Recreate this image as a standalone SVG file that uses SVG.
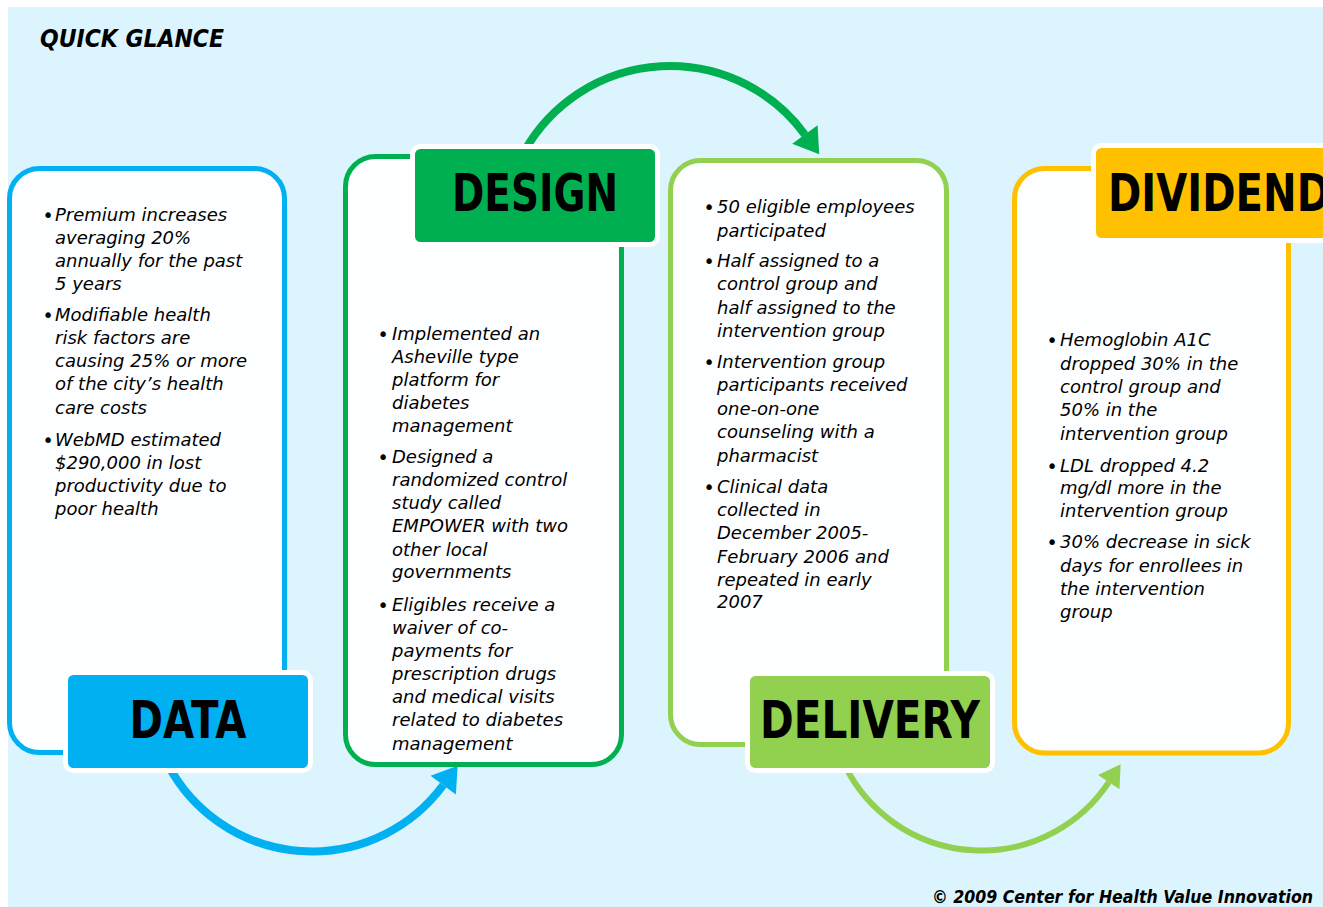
<svg xmlns="http://www.w3.org/2000/svg" width="1323" height="907" viewBox="0 0 1323 907">
  <style>
    .bg { fill: #DCF4FE; }
    .box { fill: #FDFEFF; stroke-width: 5; }
    .lbl { stroke: #FFFFFF; stroke-width: 5; }
    .ltxt { font-family: "DejaVu Sans", "Liberation Sans", sans-serif; font-weight: bold; font-size: 51px; text-anchor: middle; fill: #000; }
    .body { font-family: "DejaVu Sans", "Liberation Sans", sans-serif; font-style: italic; font-size: 18px; fill: #000; }
    .bul { font-family: "DejaVu Sans", sans-serif; font-size: 19px; text-anchor: middle; fill: #000; }
    .title { font-family: "DejaVu Sans", "Liberation Sans", sans-serif; font-weight: bold; font-style: italic; fill: #000; }
    .arc { fill: none; }
  </style>
  <defs>
    <marker id="headBlue" markerUnits="userSpaceOnUse" markerWidth="40" markerHeight="40" refX="0" refY="0" orient="auto" viewBox="-2 -14 24 28" overflow="visible">
      <path d="M0,-11 L17,0 L0,11 z" fill="#00B0F0"/>
    </marker>
    <marker id="headGreen" markerUnits="userSpaceOnUse" markerWidth="40" markerHeight="40" refX="0" refY="0" orient="auto" viewBox="-2 -14 24 28" overflow="visible">
      <path d="M0,-11 L17,0 L0,11 z" fill="#00B050"/>
    </marker>
    <marker id="headLime" markerUnits="userSpaceOnUse" markerWidth="40" markerHeight="40" refX="0" refY="0" orient="auto" viewBox="-2 -14 24 28" overflow="visible">
      <path d="M0,-9 L15,0 L0,9 z" fill="#92D050"/>
    </marker>
  </defs>

  <!-- page background -->
  <rect class="bg" x="8" y="7" width="1315" height="900"/>

  <text class="title" x="40" y="47" font-size="25" textLength="184" lengthAdjust="spacingAndGlyphs">QUICK GLANCE</text>

  <!-- curved arrows linking the four stages -->
  <g id="connectors">
    <path class="arc" d="M168.1,765 A163,163 0 0 0 443.2,785.2" stroke="#00B0F0" stroke-width="8" marker-end="url(#headBlue)"/>
    <path class="arc" d="M525.4,149.5 A167,167 0 0 1 804.9,134.6" stroke="#00B050" stroke-width="8" marker-end="url(#headGreen)"/>
    <path class="arc" d="M845.7,767.2 A152.5,152.5 0 0 0 1108.8,782.2" stroke="#92D050" stroke-width="6" marker-end="url(#headLime)"/>
  </g>

  <!-- DATA -->
  <g id="data">
    <rect class="box" x="9.5" y="168.5" width="275" height="584" rx="30" stroke="#00B0F0"/>
    <text class="bul" x="48" y="222">•</text>
    <text class="body">
      <tspan x="55" y="221">Premium increases</tspan>
      <tspan x="55" y="244">averaging 20%</tspan>
      <tspan x="55" y="267">annually for the past</tspan>
      <tspan x="55" y="290">5 years</tspan>
    </text>
    <text class="bul" x="48" y="322">•</text>
    <text class="body">
      <tspan x="55" y="321">Modifiable health</tspan>
      <tspan x="55" y="344">risk factors are</tspan>
      <tspan x="55" y="367">causing 25% or more</tspan>
      <tspan x="55" y="390">of the city’s health</tspan>
      <tspan x="55" y="414">care costs</tspan>
    </text>
    <text class="bul" x="48" y="447">•</text>
    <text class="body">
      <tspan x="55" y="446">WebMD estimated</tspan>
      <tspan x="55" y="469">$290,000 in lost</tspan>
      <tspan x="55" y="492">productivity due to</tspan>
      <tspan x="55" y="515">poor health</tspan>
    </text>
    <rect class="lbl" x="65.5" y="672.5" width="245" height="98" rx="8" fill="#00B0F0"/>
    <text class="ltxt" x="188" y="738" textLength="117" lengthAdjust="spacingAndGlyphs">DATA</text>
  </g>

  <!-- DESIGN -->
  <g id="design">
    <rect class="box" x="345.5" y="156.5" width="276" height="608" rx="30" stroke="#00B050"/>
    <text class="bul" x="383" y="341">•</text>
    <text class="body">
      <tspan x="392" y="340">Implemented an</tspan>
      <tspan x="392" y="363">Asheville type</tspan>
      <tspan x="392" y="386">platform for</tspan>
      <tspan x="392" y="409">diabetes</tspan>
      <tspan x="392" y="432">management</tspan>
    </text>
    <text class="bul" x="383" y="464">•</text>
    <text class="body">
      <tspan x="392" y="463">Designed a</tspan>
      <tspan x="392" y="486">randomized control</tspan>
      <tspan x="392" y="509">study called</tspan>
      <tspan x="392" y="532">EMPOWER with two</tspan>
      <tspan x="392" y="556">other local</tspan>
      <tspan x="392" y="578">governments</tspan>
    </text>
    <text class="bul" x="383" y="612">•</text>
    <text class="body">
      <tspan x="392" y="611">Eligibles receive a</tspan>
      <tspan x="392" y="634">waiver of co-</tspan>
      <tspan x="392" y="657">payments for</tspan>
      <tspan x="392" y="680">prescription drugs</tspan>
      <tspan x="392" y="703">and medical visits</tspan>
      <tspan x="392" y="726">related to diabetes</tspan>
      <tspan x="392" y="750">management</tspan>
    </text>
    <rect class="lbl" x="412.5" y="146.5" width="245" height="98" rx="8" fill="#00B050"/>
    <text class="ltxt" x="535" y="211" textLength="166" lengthAdjust="spacingAndGlyphs">DESIGN</text>
  </g>

  <!-- DELIVERY -->
  <g id="delivery">
    <rect class="box" x="670.5" y="160.5" width="276" height="584" rx="30" stroke="#92D050"/>
    <text class="bul" x="709" y="214">•</text>
    <text class="body">
      <tspan x="717" y="213">50 eligible employees</tspan>
      <tspan x="717" y="237">participated</tspan>
    </text>
    <text class="bul" x="709" y="268">•</text>
    <text class="body">
      <tspan x="717" y="267">Half assigned to a</tspan>
      <tspan x="717" y="290">control group and</tspan>
      <tspan x="717" y="314">half assigned to the</tspan>
      <tspan x="717" y="337">intervention group</tspan>
    </text>
    <text class="bul" x="709" y="369">•</text>
    <text class="body">
      <tspan x="717" y="368">Intervention group</tspan>
      <tspan x="717" y="391">participants received</tspan>
      <tspan x="717" y="415">one-on-one</tspan>
      <tspan x="717" y="438">counseling with a</tspan>
      <tspan x="717" y="462">pharmacist</tspan>
    </text>
    <text class="bul" x="709" y="494">•</text>
    <text class="body">
      <tspan x="717" y="493">Clinical data</tspan>
      <tspan x="717" y="516">collected in</tspan>
      <tspan x="717" y="539">December 2005-</tspan>
      <tspan x="717" y="563">February 2006 and</tspan>
      <tspan x="717" y="586">repeated in early</tspan>
      <tspan x="717" y="608">2007</tspan>
    </text>
    <rect class="lbl" x="747.5" y="673.5" width="245" height="97" rx="8" fill="#92D050"/>
    <text class="ltxt" x="870" y="738" textLength="220" lengthAdjust="spacingAndGlyphs">DELIVERY</text>
  </g>

  <!-- DIVIDEND -->
  <g id="dividend">
    <rect class="box" x="1014.5" y="168.5" width="274" height="584.5" rx="30" stroke="#FFC000"/>
    <text class="bul" x="1052" y="347">•</text>
    <text class="body">
      <tspan x="1060" y="346">Hemoglobin A1C</tspan>
      <tspan x="1060" y="370">dropped 30% in the</tspan>
      <tspan x="1060" y="393">control group and</tspan>
      <tspan x="1060" y="416">50% in the</tspan>
      <tspan x="1060" y="440">intervention group</tspan>
    </text>
    <text class="bul" x="1052" y="473">•</text>
    <text class="body">
      <tspan x="1060" y="472">LDL dropped 4.2</tspan>
      <tspan x="1060" y="494">mg/dl more in the</tspan>
      <tspan x="1060" y="517">intervention group</tspan>
    </text>
    <text class="bul" x="1052" y="549">•</text>
    <text class="body">
      <tspan x="1060" y="548">30% decrease in sick</tspan>
      <tspan x="1060" y="572">days for enrollees in</tspan>
      <tspan x="1060" y="595">the intervention</tspan>
      <tspan x="1060" y="618">group</tspan>
    </text>
    <rect class="lbl" x="1093.5" y="145.5" width="245" height="95" rx="8" fill="#FFC000"/>
    <text class="ltxt" x="1219" y="211" textLength="222" lengthAdjust="spacingAndGlyphs">DIVIDEND</text>
  </g>

  <text class="title" x="932" y="903" font-size="17" textLength="381" lengthAdjust="spacingAndGlyphs">© 2009 Center for Health Value Innovation</text>
</svg>
